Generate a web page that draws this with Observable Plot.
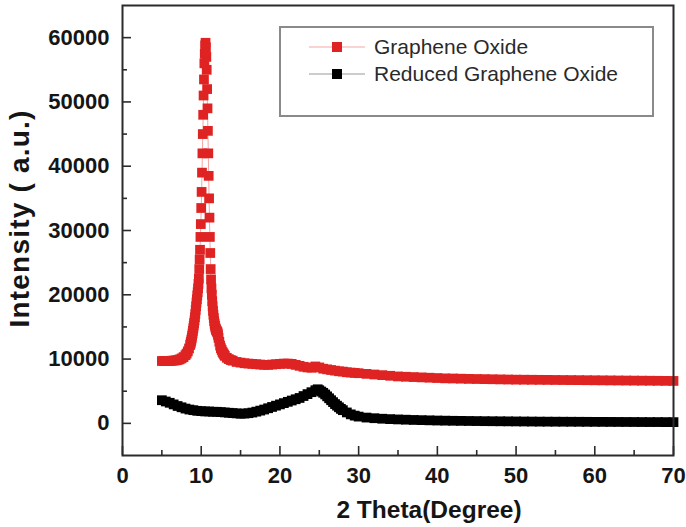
<!DOCTYPE html>
<html>
<head>
<meta charset="utf-8">
<script src="https://cdn.jsdelivr.net/npm/d3@7"></script>
<script src="https://cdn.jsdelivr.net/npm/@observablehq/plot@0.6"></script>
<style>
  html, body { margin: 0; padding: 0; background: #fff; }
  #wrap { position: relative; width: 686px; height: 527px; font-family: "Liberation Sans", Arial, sans-serif; }
  #legend { position: absolute; left: 279px; top: 26px; width: 371px; height: 87px; border: 2px solid #8a8a8a; background: #fff; }
  .row { position: absolute; left: 0; height: 26px; display: flex; align-items: center; }
  .row svg { display: block; }
  .row span { font-size: 21px; color: #2a2a2a; margin-left: 7px; }
  .ytitle text { letter-spacing: 1.2px; }
</style>
</head>
<body>
<div id="wrap"></div>
<script>
// ---- data ----
const seriesNames = ["Graphene Oxide", "Reduced Graphene Oxide"];
const seriesColors = ["#df2323", "#000000"];
const lineColors = ["#f3a6a6", "#9a9a9a"];

// Graphene Oxide: [2θ, intensity]
const goPoints = [
  [5,9700],[5.25,9700],[5.5,9700],[5.75,9710],[6,9720],[6.25,9740],[6.5,9760],[6.75,9800],[7,9850],[7.25,9950],
  [7.5,10100],[7.75,10300],[8,10600],[8.15,10850],[8.3,11200],[8.45,11650],[8.6,12200],[8.65,12450],[8.7,12700],[8.75,13000],
  [8.8,13300],[8.85,13650],[8.9,14000],[8.95,14400],[9,14800],[9.05,15200],[9.1,15600],[9.15,16000],[9.2,16500],[9.25,17000],
  [9.3,17600],[9.35,18200],[9.4,18800],[9.45,19300],[9.5,19900],[9.55,20400],[9.6,21000],[9.65,21700],[9.7,22500],[9.75,24000],
  [9.8,25500],[9.85,27000],[9.9,29000],[9.95,31000],[10,33500],[10.05,36000],[10.1,39000],[10.15,42000],[10.2,45000],[10.25,48000],
  [10.3,51000],[10.35,53500],[10.4,56000],[10.45,57500],[10.5,58800],[10.55,59200],[10.6,58500],[10.65,57000],[10.7,55000],[10.75,52000],
  [10.8,49000],[10.85,45500],[10.9,42000],[10.95,38500],[11,35000],[11.05,32000],[11.1,29000],[11.15,26500],[11.2,24000],[11.25,22400],
  [11.3,21000],[11.35,20000],[11.4,19000],[11.45,18200],[11.5,17500],[11.55,16900],[11.6,16400],[11.65,15900],[11.7,15500],[11.75,15200],
  [11.8,14900],[11.85,14700],[11.9,14500],[11.95,14400],[12,14300],[12.05,14200],[12.1,14000],[12.15,13700],[12.2,13300],[12.3,12700],
  [12.4,12100],[12.5,11700],[12.6,11400],[12.7,11100],[12.8,10900],[12.9,10700],[13,10500],[13.25,10200],[13.5,10000],[13.75,9850],
  [14,9750],[14.5,9550],[15,9450],[15.5,9350],[16,9300],[16.5,9250],[17,9200],[17.5,9150],[18,9100],[18.5,9100],
  [19,9150],[19.5,9200],[20,9250],[20.5,9300],[21,9300],[21.5,9250],[22,9100],[22.5,8950],[23,8800],[23.5,8700],
  [24,8650],[24.5,8850],[25,8700],[25.5,8500],[26,8400],[26.5,8300],[27,8200],[27.5,8100],[28,8050],[28.5,7950],
  [29,7900],[29.5,7850],[30,7800],[31,7700],[32,7600],[33,7500],[34,7400],[35,7300],[36,7250],[37,7200],
  [38,7150],[39,7100],[40,7050],[41,7000],[42,6980],[43,6950],[44,6920],[45,6900],[46,6880],[47,6860],
  [48,6840],[49,6820],[50,6800],[51,6790],[52,6780],[53,6770],[54,6760],[55,6750],[56,6740],[57,6730],
  [58,6720],[59,6710],[60,6700],[61,6690],[62,6680],[63,6670],[64,6660],[65,6650],[66,6640],[67,6630],
  [68,6620],[69,6610],[70,6600]
];

// Reduced Graphene Oxide: [2θ, intensity]
const rgoPoints = [
  [5,3600],[5.5,3400],[6,3200],[6.5,2950],[7,2700],[7.5,2500],[8,2300],[8.5,2150],[9,2050],[9.5,1950],
  [10,1900],[10.5,1850],[11,1850],[11.5,1800],[12,1800],[12.5,1750],[13,1700],[13.5,1650],[14,1600],[14.5,1550],
  [15,1500],[15.5,1520],[16,1580],[16.5,1680],[17,1820],[17.5,1980],[18,2150],[18.5,2350],[19,2550],[19.5,2750],
  [20,2950],[20.5,3150],[21,3350],[21.5,3550],[22,3750],[22.5,3950],[23,4250],[23.5,4550],[24,4850],[24.5,5150],
  [24.8,5300],[25,5150],[25.25,4950],[25.5,4750],[25.75,4500],[26,4200],[26.25,3900],[26.5,3600],[26.75,3300],[27,3000],
  [27.25,2750],[27.5,2500],[27.75,2250],[28,2050],[28.5,1700],[29,1400],
  [29.5,1200],[30,1050],[31,900],[32,800],[33,720],[34,660],[35,610],[36,570],[37,530],[38,500],
  [39,470],[40,440],[41,420],[42,400],[43,385],[44,370],[45,355],[46,340],[47,330],[48,320],
  [49,310],[50,300],[51,290],[52,280],[53,270],[54,265],[55,260],[56,255],[57,250],[58,245],
  [59,240],[60,235],[61,230],[62,225],[63,220],[64,215],[65,210],[66,205],[67,200],[68,200],
  [69,195],[70,190]
];

// axis ticks
const xMajorTicks = [0, 10, 20, 30, 40, 50, 60, 70];
const xMinorTicks = [5, 15, 25, 35, 45, 55, 65];
const yMajorTicks = [0, 10000, 20000, 30000, 40000, 50000, 60000];
const yMinorTicks = [5000, 15000, 25000, 35000, 45000, 55000];
const xTitle = "2 Theta(Degree)";
const yTitle = "Intensity ( a.u.)";

// ---- build ----
const toRows = (pts, name) => pts.map(([t, v]) => ({theta: t, intensity: v, series: name}));
const goData = toRows(goPoints, seriesNames[0]);
const rgoData = toRows(rgoPoints, seriesNames[1]);

const W = 686, H = 527, mL = 122, mR = 13, mT = 5, mB = 72;
const frameW = W - mL - mR, frameH = H - mT - mB;
const majorLen = 9, minorLen = 5;
const font = "'Liberation Sans', Arial, sans-serif";
const tickStyle = {stroke: "#2b2b2b", strokeWidth: 1.6};

const chart = Plot.plot({
  width: W,
  height: H,
  marginLeft: mL,
  marginRight: mR,
  marginTop: mT,
  marginBottom: mB,
  x: {domain: [0, 70]},
  y: {domain: [-5000, 65000]},
  style: {fontFamily: font, background: "#fff", color: "#151515"},
  marks: [
    Plot.line(goData, {x: "theta", y: "intensity", stroke: lineColors[0], strokeWidth: 1}),
    Plot.dot(goData, {x: "theta", y: "intensity", symbol: "square", r: 5.5, fill: seriesColors[0], stroke: "none"}),
    Plot.line(rgoData, {x: "theta", y: "intensity", stroke: lineColors[1], strokeWidth: 1}),
    Plot.dot(rgoData, {x: "theta", y: "intensity", symbol: "square", r: 5.5, fill: seriesColors[1], stroke: "none"}),
    Plot.frame({stroke: "#2b2b2b", strokeWidth: 2}),
    // inward ticks
    Plot.tickX(xMajorTicks, {x: d => d, insetTop: frameH - majorLen, ...tickStyle}),
    Plot.tickX(xMinorTicks, {x: d => d, insetTop: frameH - minorLen, ...tickStyle}),
    Plot.tickY(yMajorTicks, {y: d => d, insetRight: frameW - majorLen, ...tickStyle}),
    Plot.tickY(yMinorTicks, {y: d => d, insetRight: frameW - minorLen, ...tickStyle}),
    // tick labels
    Plot.axisX(xMajorTicks, {tickSize: 0, tickPadding: 12, label: null, fontSize: 22, fontWeight: "bold", tickFormat: d => String(d)}),
    Plot.axisY(yMajorTicks, {tickSize: 0, tickPadding: 13, label: null, fontSize: 22, fontWeight: "bold", tickFormat: d => String(d)}),
    // titles
    Plot.text([xTitle], {frameAnchor: "bottom", textAnchor: "middle", dx: 31, dy: 62, fontSize: 24.5, fontWeight: "bold", fill: "#151515"}),
    Plot.text([yTitle], {frameAnchor: "left", textAnchor: "middle", lineAnchor: "middle", rotate: -90, dx: -102, dy: -12, fontSize: 28, fontWeight: "bold", fill: "#151515", className: "ytitle"})
  ]
});

const wrap = document.getElementById("wrap");
wrap.appendChild(chart);

// legend (HTML overlay, top-right inside the frame)
const legend = document.createElement("div");
legend.id = "legend";
seriesNames.forEach((name, i) => {
  const row = document.createElement("div");
  row.className = "row";
  row.style.top = (6 + i * 27) + "px";
  row.innerHTML = `<svg width="86" height="26"><line x1="28" x2="84" y1="13" y2="13" stroke="${lineColors[i]}" stroke-width="1.2"/>` +
    `<rect x="51" y="8" width="10" height="10" fill="${seriesColors[i]}"/></svg><span>${name}</span>`;
  legend.appendChild(row);
});
wrap.appendChild(legend);
</script>
</body>
</html>
